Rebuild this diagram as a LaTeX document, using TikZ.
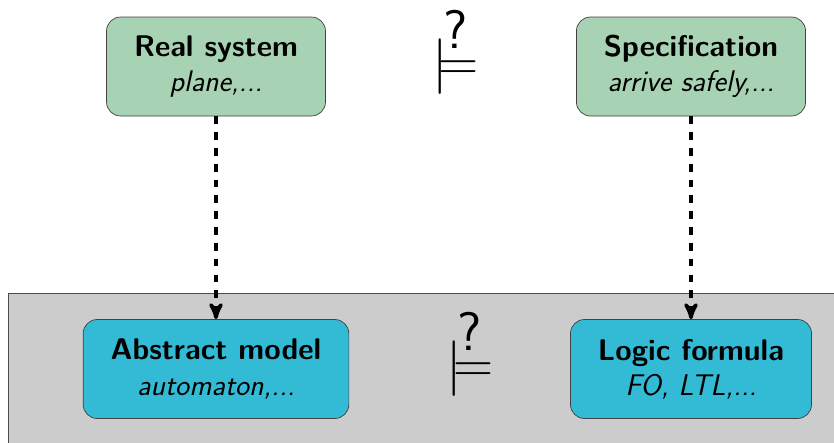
\documentclass[tikz,border=0pt]{standalone}
\usepackage{amsmath}
\usepackage{graphicx}
\usepackage{tikz}
\usetikzlibrary{arrows}
\usetikzlibrary{positioning}
\definecolor{sysgreen}{RGB}{167,211,180}
\definecolor{modelcyan}{RGB}{51,187,214}
\renewcommand{\familydefault}{\sfdefault}

\newcommand{\satq}{{\fontsize{24.88}{30}\selectfont\ooalign{\scalebox{1.27}{$\models$}\cr\hidewidth\raisebox{18.1pt}{\fontsize{31}{31}\selectfont ?}\hidewidth\cr}}}

\begin{document}
\begin{tikzpicture}[->,>=stealth',thick,node distance=9.5cm,font=\sffamily\fontsize{17}{20}\selectfont,
    box/.style={rectangle,rounded corners=8pt,draw=black!75,thin,align=center,minimum height=1.98cm,inner xsep=0.55cm},
    real box/.style={box,fill=sysgreen},
    model box/.style={box,fill=modelcyan},
    sat/.style={inner sep=0pt,anchor=base}]

        \useasboundingbox (0,0) rectangle (16.68,-8.86);
        \fill[black!20,draw=black!70,thin] (0.17,-5.86) rectangle (17,-9.2);

        \node[real box] (real) at (4.32,-1.33) {\textbf{Real system}\\ \textit{plane,...}};
        \node[real box] (spec) [right of=real] {\textbf{Specification}\\ \textit{arrive safely,...}};
        \node[model box] (abs) [below of=real, node distance=6.05cm] {\textbf{Abstract model}\\ \textit{automaton,...}};
        \node[model box] (ltl) [below of=spec, node distance=6.05cm] {\textbf{Logic formula}\\ \textit{FO, LTL,...}};

        \node[sat] (satup) at (9.11,-1.60) {\satq};
        \node[sat] (satdown) at (9.40,-7.65) {\satq};

        \path[every edge/.style={draw,line width=2pt,dash pattern=on 4.4pt off 4.6pt}]
        (real) edge (abs)
        (spec) edge (ltl);

\end{tikzpicture}
\end{document}
